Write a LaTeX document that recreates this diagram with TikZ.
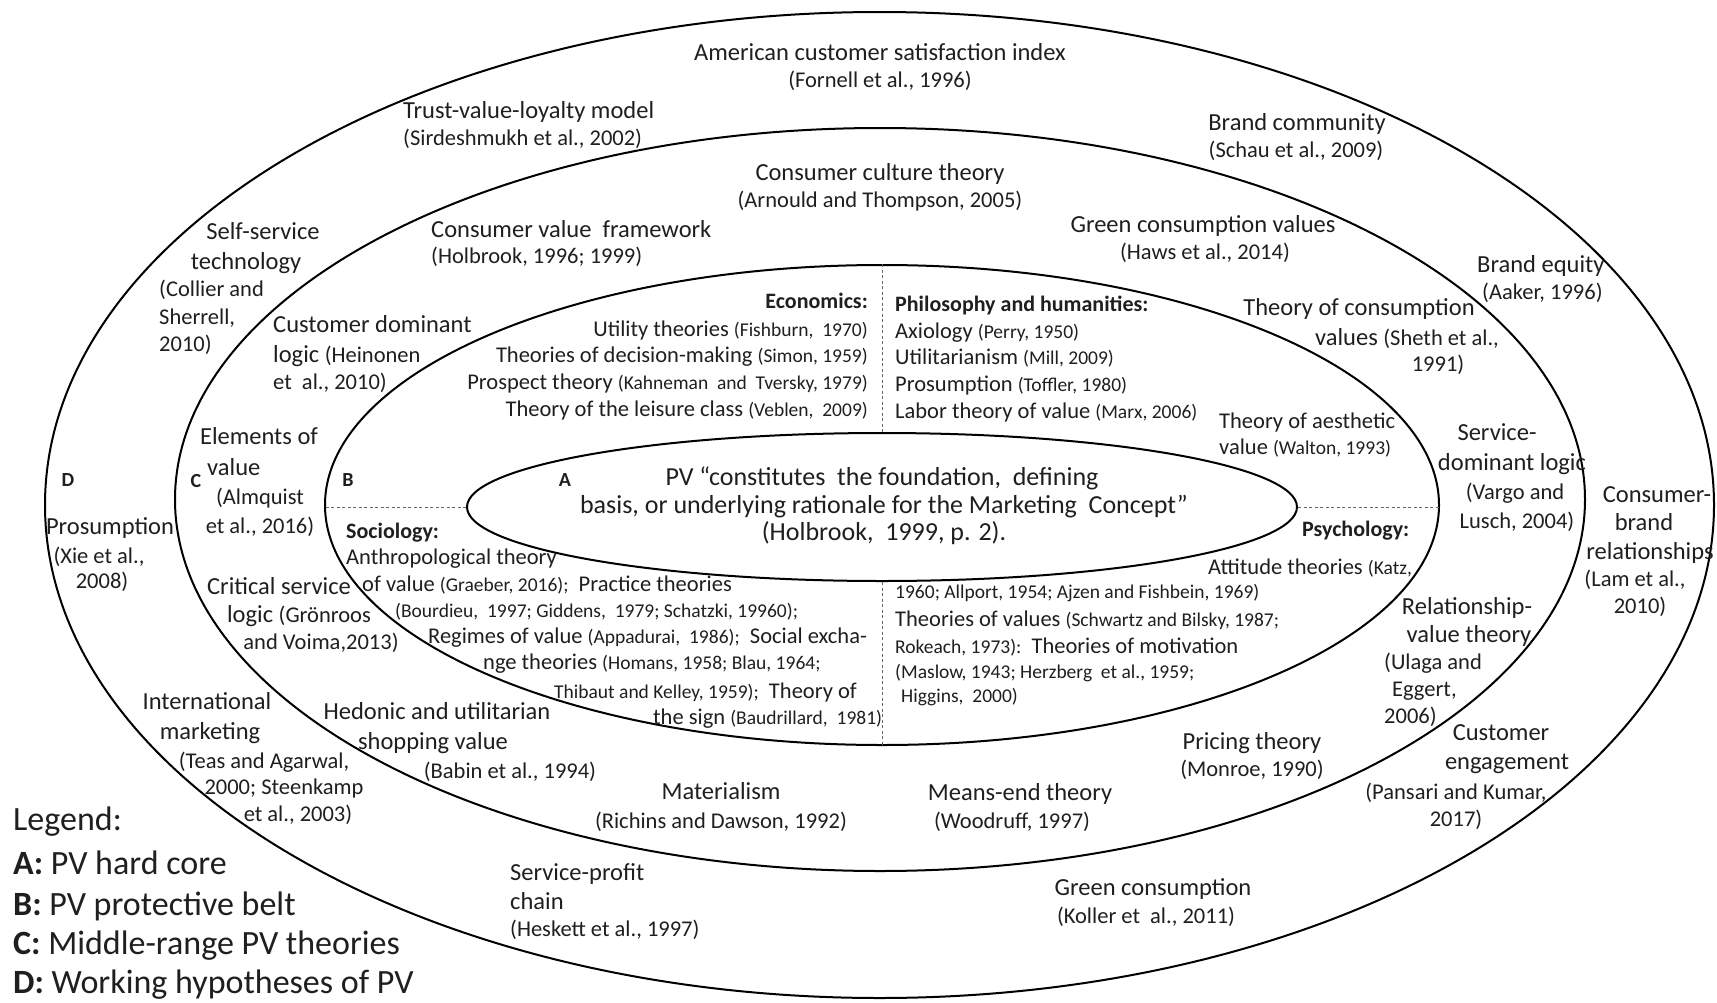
\documentclass[tikz,border=0pt]{standalone}
\usepackage{fontspec}
\setmainfont{Carlito}
\usetikzlibrary{shapes.geometric}

% type sizes (1pt = 1 unit of the picture)
\newcommand\fHead{\fontsize{24.5}{28}\selectfont}
\newcommand\fRef{\fontsize{22.5}{28}\selectfont}
\newcommand\fIn{\fontsize{22.5}{27}\selectfont}
\newcommand\fSm{\fontsize{19.5}{27}\selectfont}
\newcommand\fCat{\fontsize{22}{27}\selectfont\bfseries}
\newcommand\fLab{\fontsize{20}{27}\selectfont\bfseries}
\newcommand\fCore{\fontsize{26}{28}\selectfont}
\newcommand\fLeg{\fontsize{34}{40}\selectfont}

% each line is centred on its visual middle: box height minus depth = 0.6em
\tikzset{
  ring/.style={draw, ellipse, line width=2pt, inner sep=0pt},
  divider/.style={draw=black!60, line width=1pt, dash pattern=on 3pt off 2.5pt},
  txt/.style={inner sep=0pt, text=black!88},
  hd/.style={txt, font=\fHead, text height=19.6pt, text depth=4.9pt},
  rf/.style={txt, font=\fRef, text height=18pt, text depth=4.5pt},
  inr/.style={txt, font=\fIn, text height=18pt, text depth=4.5pt},
  sm/.style={txt, font=\fSm, text height=15.6pt, text depth=3.9pt},
  cat/.style={txt, font=\fCat, text height=17.6pt, text depth=4.4pt},
  lab/.style={txt, font=\fLab, text height=16pt, text depth=4pt},
  core/.style={txt, font=\fCore, text height=20.8pt, text depth=5.2pt},
  leg/.style={txt, font=\fLeg, text height=27.2pt, text depth=6.8pt},
}

\begin{document}
\begin{tikzpicture}[x=1pt, y=-1pt]
\fill[white] (0,0) rectangle (1717,1002);
\useasboundingbox (0,0) rectangle (1717,1002);

% the four nested rings
\node[ring, minimum width=1669pt, minimum height=986pt] (D) at (879.5,505) {};
\node[ring, minimum width=1410pt, minimum height=743pt] (C) at (880,499.5) {};
\node[ring, minimum width=1114pt, minimum height=480pt] (B) at (882,505) {};
\node[ring, minimum width=830pt, minimum height=148pt] (A) at (882,507) {};

% discipline quadrants of the protective belt
\draw[divider] (A.west) -- (B.west |- A.west);
\draw[divider] (A.east) -- (B.east |- A.east);
\draw[divider] (A.north) -- (A.north |- B.north);
\draw[divider] (A.south) -- (A.south |- B.south);

% ring labels
\node[lab] (labD) at (68,480) {D};
\node[lab] (labC) at (196,481) {C};
\node[lab] (labB) at (348,480) {B};
\node[lab] (labA) at (565,480) {A};

% hard core
\node[core] (core1) at (882,478) {PV “constitutes\ \ the foundation,\ \ defining};
\node[core] (core2) at (884,506) {basis, or underlying rationale for the Marketing\ \ Concept”};
\node[core] (core3) at (884,533) {(Holbrook,\ \ 1999, p. 2).};

% ---- working hypotheses (outer ring)
\node[hd] (acsi1) at (880,53) {American customer satisfaction index};
\node[rf] (acsi2) at (880,81) {(Fornell et al., 1996)};
\node[hd,anchor=west] (tvl1) at (403,111) {Trust-value-loyalty model};
\node[rf,anchor=west] (tvl2) at (403,139) {(Sirdeshmukh et al., 2002)};
\node[hd] (bc1) at (1297,123) {Brand community};
\node[rf] (bc2) at (1296,151) {(Schau et al., 2009)};
\node[hd] (sst1) at (263,232) {Self-service};
\node[hd] (sst2) at (246,262) {technology};
\node[rf,anchor=west] (sst3) at (159,290) {(Collier and};
\node[rf,anchor=west] (sst4) at (159,318) {Sherrell,};
\node[rf,anchor=west] (sst5) at (159,345) {2010)};
\node[hd,anchor=west] (be1) at (1477,265) {Brand equity};
\node[rf,anchor=west] (be2) at (1482,293) {(Aaker, 1996)};
\node[hd] (pro1) at (110,527) {Prosumption};
\node[rf] (pro2) at (99,557) {(Xie et al.,};
\node[rf] (pro3) at (102,582) {2008)};
\node[hd] (cbr1) at (1657,495) {Consumer-};
\node[hd] (cbr2) at (1644,523) {brand};
\node[hd] (cbr3) at (1650,552) {relationships};
\node[rf] (cbr4) at (1635,580) {(Lam et al.,};
\node[rf] (cbr5) at (1640,607) {2010)};
\node[hd] (ce1) at (1501,733) {Customer};
\node[hd] (ce2) at (1507,762) {engagement};
\node[rf] (ce3) at (1456,793) {(Pansari and Kumar,};
\node[rf] (ce4) at (1456,820) {2017)};
\node[hd] (im1) at (207,702) {International};
\node[hd] (im2) at (210,732) {marketing};
\node[rf] (im3) at (264,762) {(Teas and Agarwal,};
\node[rf] (im4) at (284,788) {2000; Steenkamp};
\node[rf] (im5) at (298,815) {et al., 2003)};
\node[hd,anchor=west] (spc1) at (510,873) {Service-profit};
\node[hd,anchor=west] (spc2) at (510,902) {chain};
\node[rf,anchor=west] (spc3) at (510,930) {(Heskett et al., 1997)};
\node[hd] (gc1) at (1153,888) {Green consumption};
\node[rf] (gc2) at (1146,917) {(Koller et\ \ al., 2011)};

% ---- middle-range theories
\node[hd] (cct1) at (880,173) {Consumer culture theory};
\node[rf] (cct2) at (880,201) {(Arnould and Thompson, 2005)};
\node[hd,anchor=west] (cvf1) at (431,230) {Consumer value\ \ framework};
\node[rf,anchor=west] (cvf2) at (431,257) {(Holbrook, 1996; 1999)};
\node[hd] (gcv1) at (1203,225) {Green consumption values};
\node[rf] (gcv2) at (1205,253) {(Haws et al., 2014)};
\node[hd,anchor=west] (cdl1) at (273,325) {Customer dominant};
\node[hd,anchor=west] (cdl2) at (273,355) {logic {\fRef(Heinonen}};
\node[rf,anchor=west] (cdl3) at (273,383) {et\ \ al., 2010)};
\node[hd] (tcv1) at (1359,308) {Theory of consumption};
\node[hd] (tcv2) at (1407,338) {values {\fRef(Sheth et al.,}};
\node[rf] (tcv3) at (1438,365) {1991)};
\node[hd] (eov1) at (259,437) {Elements of};
\node[hd,anchor=west] (eov2) at (207,468) {value};
\node[rf] (eov3) at (260,498) {(Almquist};
\node[rf] (eov4) at (260,527) {et al., 2016)};
\node[hd] (sdl1) at (1497,433) {Service-};
\node[hd] (sdl2) at (1512,463) {dominant logic};
\node[rf] (sdl3) at (1515,493) {(Vargo and};
\node[rf] (sdl4) at (1517,522) {Lusch, 2004)};
\node[hd] (csl1) at (279,587) {Critical service};
\node[hd] (csl2) at (299,615) {logic {\fRef(Grönroos}};
\node[rf] (csl3) at (321,643) {and Voima,2013)};
\node[hd] (rvt1) at (1467,607) {Relationship-};
\node[hd] (rvt2) at (1469,635) {value theory};
\node[rf,anchor=west] (rvt3) at (1384,663) {(Ulaga and};
\node[rf,anchor=west] (rvt4) at (1392,690) {Eggert,};
\node[rf,anchor=west] (rvt5) at (1384,717) {2006)};
\node[hd] (hus1) at (437,712) {Hedonic and utilitarian};
\node[hd] (hus2) at (433,742) {shopping value};
\node[rf] (hus3) at (510,772) {(Babin et al., 1994)};
\node[hd] (mat1) at (721,792) {Materialism};
\node[rf] (mat2) at (721,822) {(Richins and Dawson, 1992)};
\node[hd] (met1) at (1020,793) {Means-end theory};
\node[rf] (met2) at (1012,822) {(Woodruff, 1997)};
\node[hd] (prt1) at (1252,742) {Pricing theory};
\node[rf] (prt2) at (1252,770) {(Monroe, 1990)};
\node[inr,anchor=west] (tav1) at (1219,422) {Theory of aesthetic};
\node[inr,anchor=west] (tav2) at (1219,448) {value {\fSm(Walton, 1993)}};

% ---- protective belt: economics
\node[cat,anchor=east] (eco0) at (868,302) {Economics:};
\node[inr,anchor=east] (eco1) at (868,330) {Utility theories {\fSm(Fishburn,\ \ 1970)}};
\node[inr,anchor=east] (eco2) at (868,356) {Theories of decision-making {\fSm(Simon, 1959)}};
\node[inr,anchor=east] (eco3) at (868,383) {Prospect theory {\fSm(Kahneman\ \ and\ \ Tversky, 1979)}};
\node[inr,anchor=east] (eco4) at (868,410) {Theory of the leisure class {\fSm(Veblen,\ \ 2009)}};

% philosophy and humanities
\node[cat,anchor=west] (phi0) at (895,305) {Philosophy and humanities:};
\node[inr,anchor=west] (phi1) at (895,332) {Axiology {\fSm(Perry, 1950)}};
\node[inr,anchor=west] (phi2) at (895,358) {Utilitarianism {\fSm(Mill, 2009)}};
\node[inr,anchor=west] (phi3) at (895,385) {Prosumption {\fSm(Toffler, 1980)}};
\node[inr,anchor=west] (phi4) at (895,412) {Labor theory of value {\fSm(Marx, 2006)}};

% sociology
\node[cat,anchor=west] (soc0) at (346,532) {Sociology:};
\node[inr,anchor=west] (soc1) at (346,558) {Anthropological theory};
\node[inr,anchor=west] (soc2) at (362,585) {of value {\fSm(Graeber, 2016);}\ \ Practice theories};
\node[sm,anchor=west] (soc3) at (395,612) {(Bourdieu,\ \ 1997; Giddens,\ \ 1979; Schatzki, 19960);};
\node[inr,anchor=west] (soc4) at (428,637) {Regimes of value {\fSm(Appadurai,\ \ 1986);}\ \ Social excha-};
\node[inr,anchor=west] (soc5) at (483,663) {nge theories {\fSm(Homans, 1958; Blau, 1964;}};
\node[inr,anchor=west] (soc6) at (554,692) {{\fSm Thibaut and Kelley, 1959);}\ \ Theory of};
\node[inr,anchor=west] (soc7) at (653,718) {the sign {\fSm(Baudrillard,\ \ 1981)}};

% psychology
\node[cat,anchor=west] (psy0) at (1302,530) {Psychology:};
\node[inr,anchor=west] (psy1) at (1208,568) {Attitude theories {\fSm(Katz,}};
\node[sm,anchor=west] (psy2) at (895,593) {1960; Allport, 1954; Ajzen and Fishbein, 1969)};
\node[inr,anchor=west] (psy3) at (895,620) {Theories of values {\fSm(Schwartz and Bilsky, 1987;}};
\node[inr,anchor=west] (psy4) at (895,647) {{\fSm Rokeach, 1973):}\ \ Theories of motivation};
\node[sm,anchor=west] (psy5) at (895,673) {(Maslow, 1943; Herzberg\ \ et al., 1959;};
\node[sm,anchor=west] (psy6) at (901,697) {Higgins,\ \ 2000)};

% legend
\node[leg,anchor=west] (leg0) at (13,820) {Legend:};
\node[leg,anchor=west] (legA) at (13,864) {\textbf{A:} PV hard core};
\node[leg,anchor=west] (legB) at (13,905) {\textbf{B:} PV protective belt};
\node[leg,anchor=west] (legC) at (13,944) {\textbf{C:} Middle-range PV theories};
\node[leg,anchor=west] (legD) at (13,983) {\textbf{D:} Working hypotheses of PV};
\end{tikzpicture}
\end{document}
